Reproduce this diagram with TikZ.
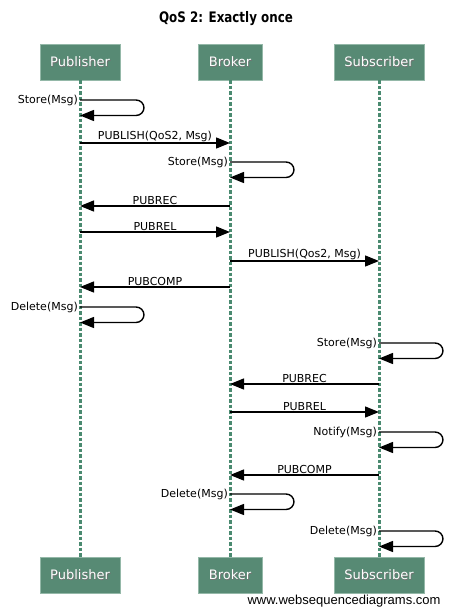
\documentclass[tikz,border=0pt]{standalone}
\usepackage{fontspec}
\usepackage{graphicx}
\setmainfont{DejaVu Sans}
\newfontfamily\wmfont{Liberation Sans}
\usetikzlibrary{arrows.meta}
\definecolor{boxgreen}{HTML}{578A74}
\definecolor{boxedge}{HTML}{94B8A8}
\definecolor{lifegreen}{HTML}{4A8A70}
\newcommand\shtext[1]{\rlap{\hspace{0.8pt}\raisebox{-0.8pt}{\color{black!55}#1}}#1}
\begin{document}
\begin{tikzpicture}[x=1pt, y=-1pt,
    actor/.style={draw=boxedge, fill=boxgreen, text=white, minimum height=36pt,
      font=\fontsize{13}{15}\selectfont},
    life/.style={lifegreen, line width=3pt, dash pattern=on 3.5pt off 2pt},
    msg/.style={line width=1.4pt, -{Triangle[length=14pt, width=11pt]}},
    lbl/.style={font=\fontsize{11}{13}\selectfont, inner sep=1pt}]
  \useasboundingbox[fill=white] (0, 0) rectangle (452, 616);
  \node[font=\bfseries\fontsize{14.5}{16}\selectfont] (title) at (226, 19)
    {\scalebox{0.82}[1]{QoS 2: Exactly once}};
  % actors, top and bottom
  \foreach \a/\x/\w/\name in {P/80/80/Publisher, B/230/64/Broker, S/379/90/Subscriber} {
    \node[actor, minimum width=\w] (\a) at (\x, 62) {\shtext{\name}};
    \node[actor, minimum width=\w] (\a b) at (\x, 575.5) {\shtext{\name}};
    \draw[life] (\a) -- (\a b);
  }
  % messages
  \foreach \f/\t/\y/\txt in {P/B/143/{PUBLISH(QoS2, Msg)}, B/P/206/PUBREC, P/B/232/PUBREL,
      B/S/261/{PUBLISH(Qos2, Msg)}, B/P/287/PUBCOMP, S/B/384/PUBREC, B/S/412/PUBREL,
      S/B/475/PUBCOMP} {
    \coordinate (m\y) at (\f |- 0, \y);
    \coordinate (n\y) at (\t |- 0, \y);
    \draw[msg] (m\y) -- node[lbl, above] {\txt} (n\y);
  }
  % self messages
  \foreach \a/\y/\txt in {P/100/Store(Msg), B/162/Store(Msg), P/307/Delete(Msg),
      S/343/Store(Msg), S/432/Notify(Msg), B/494/Delete(Msg), S/531/Delete(Msg)} {
    \coordinate (s\y) at (\a |- 0, \y);
    \coordinate (e\y) at (\a |- 0, {\y+15.5});
    \draw[msg, rounded corners=8pt] (s\y) -- ++(64, 0) -- ++(0, 15.5) -- (e\y);
    \node[lbl, left, inner sep=2pt] (t\y) at (s\y) {\txt};
  }
  \node[font=\wmfont\fontsize{13}{15}\selectfont, anchor=east] (wm) at (444, 601)
    {www.websequencediagrams.com};
\end{tikzpicture}
\end{document}
